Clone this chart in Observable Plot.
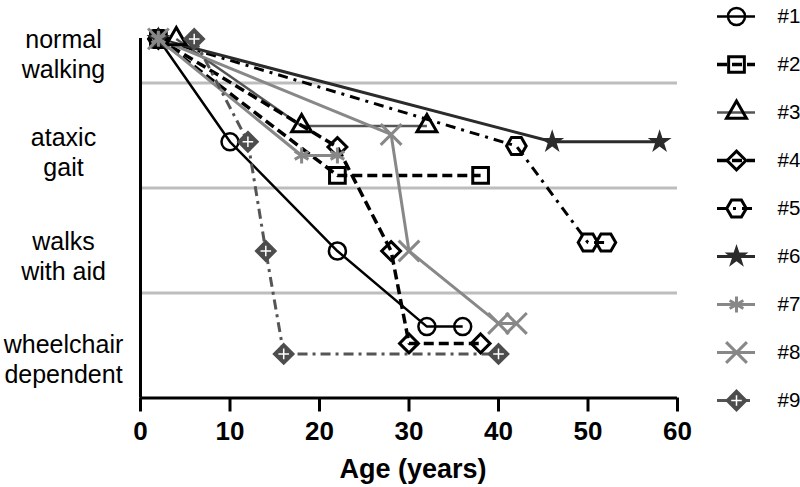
<!DOCTYPE html>
<html><head><meta charset="utf-8">
<script src="https://cdn.jsdelivr.net/npm/d3@7"></script>
<script src="https://cdn.jsdelivr.net/npm/@observablehq/plot@0.6"></script>
<style>
body{margin:0;background:#fff;}
#wrap{position:relative;width:800px;height:487px;font-family:"Liberation Sans",Arial,sans-serif;background:#fff;}
#wrap svg{position:absolute;top:0;}
</style></head><body><div id="wrap"></div>
<script>
// ---- data ----
const names = ["#1","#2","#3","#4","#5","#6","#7","#8","#9"];
const age1 = [2,10,22,32,36],  lev1 = [3.42,2.44,1.40,0.68,0.68];
const age2 = [2,22,38],        lev2 = [3.42,2.12,2.12];
const age3 = [4,18,32],        lev3 = [3.42,2.59,2.59];
const age4 = [2,22,28,30,38],  lev4 = [3.42,2.39,1.40,0.52,0.52];
const age5 = [2,42,50,52],     lev5 = [3.42,2.40,1.48,1.48];
const age6 = [2,46,58],        lev6 = [3.42,2.44,2.44];
const age7 = [2,18,22],        lev7 = [3.42,2.31,2.31];
const age8 = [2,28,30,40,42],  lev8 = [3.42,2.51,1.40,0.71,0.71];
const age9 = [6,12,14,16,40],  lev9 = [3.42,2.44,1.40,0.42,0.42];
const levelTicks  = [3.281, 2.348, 1.357, 0.376];
const levelLabels = ["normal\nwalking","ataxic\ngait","walks\nwith aid","wheelchair\ndependent"];
const gridLevels  = [1,2,3];
const ageTicks    = [0,10,20,30,40,50,60];
const topLevel    = 3.424;

const ages = [age1,age2,age3,age4,age5,age6,age7,age8,age9];
const levs = [lev1,lev2,lev3,lev4,lev5,lev6,lev7,lev8,lev9];

// ---- styles ----
const styles = [
  {stroke:"#000", width:2.5, symbol:"circle",   r:8.5, ms:"#000", mf:"none", mw:2.5},
  {stroke:"#000", width:3.5, dash:"10,5", symbol:"square2", r:10, ms:"#000", mf:"none", mw:3},
  {stroke:"#555", width:2.5, symbol:"triangle2", r:9.5, ms:"#000", mf:"none", mw:3},
  {stroke:"#000", width:3.5, dash:"10,5", symbol:"diamond2", r:8.5, ms:"#000", mf:"none", mw:3},
  {stroke:"#000", width:3, dash:"10,6,3,6", symbol:"hexagon", r:8.5, ms:"#000", mf:"none", mw:3, rot:90},
  {stroke:"#2b2b2b", width:3, symbol:"star", r:7.5, ms:"none", mf:"#2b2b2b", mw:0},
  {stroke:"#888", width:3, symbol:"asterisk", r:7.5, ms:"#888", mf:"none", mw:3},
  {stroke:"#888", width:3, symbol:"times", r:9.5, ms:"#888", mf:"none", mw:3},
  {stroke:"#555", width:3, dash:"10,5,3,5", symbol:"diamond2", r:9, ms:"#4d4d4d", mf:"#4d4d4d", mw:2, plus:true}
];

const rows = ages.map((a,i)=>a.map((x,j)=>({age:x, level:levs[i][j], name:names[i]})));

function lineOpts(st){
  const o = {stroke:st.stroke, strokeWidth:st.width, strokeLinecap:"butt", strokeLinejoin:"miter"};
  if (st.dash) o.strokeDasharray = st.dash;
  return o;
}
function dotOpts(st){
  const o = {symbol:st.symbol, r:st.r, stroke:st.ms, fill:st.mf, strokeWidth:st.mw};
  if (st.rot) o.rotate = st.rot;
  return o;
}

const lines = rows.map((r,i)=>Plot.line(r,{x:"age", y:"level", ...lineOpts(styles[i])}));
const dots = [];
rows.forEach((r,i)=>{
  const st = styles[i];
  dots.push(Plot.dot(r,{x:"age", y:"level", ...dotOpts(st)}));
  if (st.plus) dots.push(Plot.dot(r,{x:"age", y:"level", symbol:"plus", r:3.5, stroke:"#fff", strokeWidth:1.5}));
});

const chart = Plot.plot({
  width:800, height:487,
  marginLeft:140, marginRight:123, marginTop:38, marginBottom:89.5,
  style:{fontFamily:"'Liberation Sans', Arial, sans-serif", background:"transparent", overflow:"visible"},
  x:{domain:[0,60]},
  y:{domain:[0,topLevel], axis:null},
  marks:[
    Plot.ruleY(gridLevels,{x1:0, x2:60, stroke:"#bdbdbd", strokeWidth:3}),
    ...lines,
    ...dots,
    Plot.ruleX([0],{y1:0, y2:topLevel, stroke:"#000", strokeWidth:3}),
    Plot.ruleY([0],{x1:0, x2:60, stroke:"#000", strokeWidth:3}),
    Plot.axisX({ticks:ageTicks, tickSize:14, tickPadding:10, fontSize:26, fontWeight:"bold", strokeWidth:3, label:null, fill:"#000"}),
    Plot.text(levelTicks,{y:d=>d, text:(d,i)=>levelLabels[i], frameAnchor:"left", dx:-77, textAnchor:"middle", lineHeight:1.2, fontSize:25, fill:"#000"}),
    Plot.text(["Age (years)"],{text:d=>d, frameAnchor:"bottom", lineAnchor:"bottom", dy:79.5, dx:4, fontSize:27, fontWeight:"bold", fill:"#000"})
  ]
});
chart.style.left = "0px";
document.getElementById("wrap").appendChild(chart);

// ---- legend ----
const legendMarks = [];
names.forEach((n,i)=>{
  const st = styles[i];
  legendMarks.push(Plot.ruleY([n],{y:d=>d, x1:0, x2:1, ...lineOpts(st)}));
  legendMarks.push(Plot.dot([n],{x:0.5, y:d=>d, ...dotOpts(st)}));
  if (st.plus) legendMarks.push(Plot.dot([n],{x:0.5, y:d=>d, symbol:"plus", r:3.5, stroke:"#fff", strokeWidth:1.5}));
});
legendMarks.push(Plot.text(names,{x:1, y:d=>d, text:d=>d, dx:22, textAnchor:"start", fontSize:20.5, fill:"#000"}));
const legend = Plot.plot({
  width:100, height:487, margin:0,
  style:{fontFamily:"'Liberation Sans', Arial, sans-serif", background:"transparent", overflow:"visible"},
  x:{domain:[0,1], range:[17,55], axis:null},
  y:{type:"point", domain:names, range:[13.5,401.5], padding:0, axis:null},
  marks:legendMarks
});
legend.style.left = "700px";
document.getElementById("wrap").appendChild(legend);
</script>
</body></html>
